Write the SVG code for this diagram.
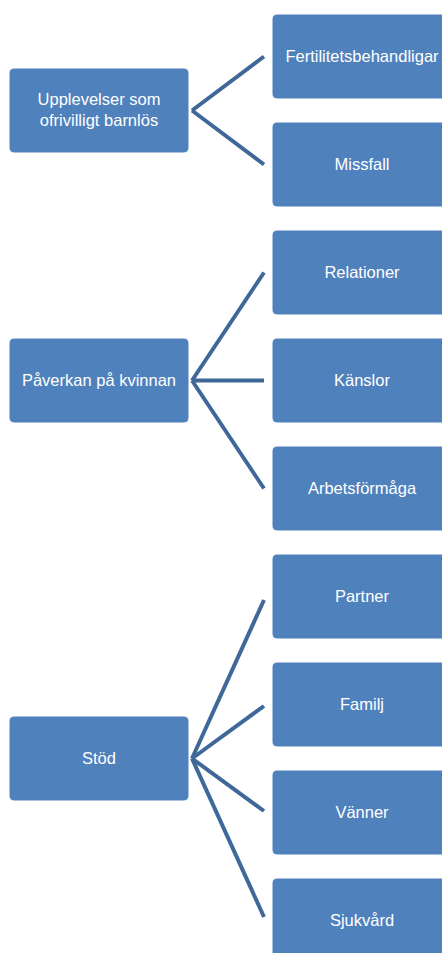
<svg xmlns="http://www.w3.org/2000/svg" width="442" height="953" viewBox="0 0 442 953">
<style>
.n rect{fill:#4f81bd;stroke:#ffffff;stroke-width:1}
.n text{fill:#ffffff;font-family:"Liberation Sans",Arial,sans-serif;font-size:16.5px;text-anchor:middle}
.c line{stroke:#3f6899;stroke-width:4;stroke-linecap:butt}
</style>
<rect width="442" height="953" fill="#ffffff"/>
<g id="connectors" class="c">
<line x1="192" y1="110.5" x2="264" y2="56.5"/>
<line x1="192" y1="110.5" x2="264" y2="164.5"/>
<line x1="192" y1="380.5" x2="264" y2="272.5"/>
<line x1="192" y1="380.5" x2="264" y2="380.5"/>
<line x1="192" y1="380.5" x2="264" y2="488.5"/>
<line x1="192" y1="758.5" x2="264" y2="600"/>
<line x1="192" y1="758.5" x2="264" y2="706"/>
<line x1="192" y1="758.5" x2="264" y2="811"/>
<line x1="192" y1="758.5" x2="264" y2="917"/>
</g>
<g id="n1" class="n"><rect x="9" y="68" width="180" height="85" rx="5"/><text x="99" y="105">Upplevelser som</text><text x="99" y="125.5">ofrivilligt barnlös</text></g>
<g id="n1a" class="n"><rect x="272" y="14" width="180" height="85" rx="5"/><text x="362" y="62">Fertilitetsbehandligar</text></g>
<g id="n1b" class="n"><rect x="272" y="122" width="180" height="85" rx="5"/><text x="362" y="170">Missfall</text></g>
<g id="n2" class="n"><rect x="9" y="338" width="180" height="85" rx="5"/><text x="99" y="386">Påverkan på kvinnan</text></g>
<g id="n2a" class="n"><rect x="272" y="230" width="180" height="85" rx="5"/><text x="362" y="278">Relationer</text></g>
<g id="n2b" class="n"><rect x="272" y="338" width="180" height="85" rx="5"/><text x="362" y="386">Känslor</text></g>
<g id="n2c" class="n"><rect x="272" y="446" width="180" height="85" rx="5"/><text x="362" y="494">Arbetsförmåga</text></g>
<g id="n3" class="n"><rect x="9" y="716" width="180" height="85" rx="5"/><text x="99" y="764">Stöd</text></g>
<g id="n3a" class="n"><rect x="272" y="554" width="180" height="85" rx="5"/><text x="362" y="602">Partner</text></g>
<g id="n3b" class="n"><rect x="272" y="662" width="180" height="85" rx="5"/><text x="362" y="710">Familj</text></g>
<g id="n3c" class="n"><rect x="272" y="770" width="180" height="85" rx="5"/><text x="362" y="818">Vänner</text></g>
<g id="n3d" class="n"><rect x="272" y="878" width="180" height="85" rx="5"/><text x="362" y="926">Sjukvård</text></g>
</svg>
